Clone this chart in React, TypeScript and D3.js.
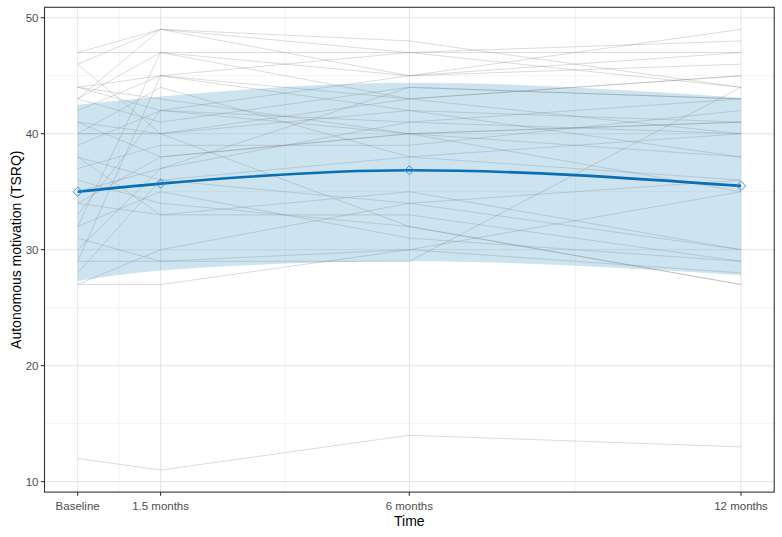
import React from "react";
import * as d3 from "d3";

// Time points (months) and labels
const timePoints = [0, 1.5, 6, 12];
const timeLabels = ["Baseline", "1.5 months", "6 months", "12 months"];
const minorX = [0.75, 3.75, 9];
const yTicks = [10, 20, 30, 40, 50];
const yMinor = [15, 25, 35, 45];

// Individual participant trajectories [Baseline, 1.5m, 6m, 12m]
const participants: number[][] = [
  [47, 47, 47, 47],
  [46, 49, 48, 44],
  [43, 49, 47, 48],
  [47, 49, 45, 46],
  [43, 47, 45, 49],
  [46, 40, 42, 41],
  [44, 45, 43, 45],
  [44, 42, 40, 41],
  [43, 41, 44, 43],
  [42, 45, 47, 44],
  [41, 38, 40, 38],
  [40, 40, 43, 40],
  [40, 44, 38, 36],
  [39, 42, 41, 40],
  [38, 36, 34, 30],
  [38, 33, 33, 29],
  [37, 39, 39, 42],
  [36, 34, 32, 27],
  [35, 37, 41, 43],
  [34, 33, 35, 30],
  [34, 38, 40, 41],
  [33, 42, 45, 47],
  [32, 47, 43, 45],
  [32, 35, 31, 29],
  [31, 29, 30, 35],
  [30, 37, 44, 43],
  [29, 45, 42, 38],
  [29, 29, 29, 44],
  [28, 36, 38, 40],
  [27, 27, 30, 28],
  [27, 30, 34, 36],
  [12, 11, 14, 13],
  [44, 43, 40, 35],
  [41, 40, 32, 27],
];

// Group mean and band
const meanValues = [35.0, 35.7, 36.85, 35.5];
const bandUpper = [42.5, 43.2, 44.4, 43.1];
const bandLower = [27.3, 28.2, 29.0, 27.8];

const W = 782;
const H = 537;
const panel = { left: 44.5, right: 774.2, top: 7.3, bottom: 492.1 };

export default function App() {
  const x = d3.scaleLinear().domain([-0.6, 12.6]).range([panel.left, panel.right]);
  const y = d3.scaleLinear().domain([9.1, 50.9]).range([panel.bottom, panel.top]);

  const indivLine = d3
    .line<number>()
    .x((_, i) => x(timePoints[i]))
    .y((d) => y(d));

  const meanLine = d3
    .line<number>()
    .x((_, i) => x(timePoints[i]))
    .y((d) => y(d))
    .curve(d3.curveMonotoneX);

  const band = d3
    .area<number>()
    .x((_, i) => x(timePoints[i]))
    .y0((_, i) => y(bandLower[i]))
    .y1((_, i) => y(bandUpper[i]))
    .curve(d3.curveMonotoneX);

  const font = "Liberation Sans, Arial, sans-serif";
  const ds = 4.6;

  return (
    <svg
      width={W}
      height={H}
      style={{ position: "fixed", left: 0, top: 0, background: "#fff" }}
      fontFamily={font}
    >
      <rect x={0} y={0} width={W} height={H} fill="#fff" />
      {/* minor gridlines */}
      {minorX.map((t) => (
        <line key={"mx" + t} x1={x(t)} x2={x(t)} y1={panel.top} y2={panel.bottom} stroke="#ebebeb" strokeWidth={0.6} />
      ))}
      {yMinor.map((v) => (
        <line key={"my" + v} x1={panel.left} x2={panel.right} y1={y(v)} y2={y(v)} stroke="#ebebeb" strokeWidth={0.6} />
      ))}
      {/* major gridlines */}
      {timePoints.map((t) => (
        <line key={"gx" + t} x1={x(t)} x2={x(t)} y1={panel.top} y2={panel.bottom} stroke="#e6e6e6" strokeWidth={1.1} />
      ))}
      {yTicks.map((v) => (
        <line key={"gy" + v} x1={panel.left} x2={panel.right} y1={y(v)} y2={y(v)} stroke="#e6e6e6" strokeWidth={1.1} />
      ))}

      {/* band */}
      <path d={band(meanValues) || ""} fill="#56a2cd" fillOpacity={0.3} />

      {/* individual lines */}
      {participants.map((p, i) => (
        <path key={"p" + i} d={indivLine(p) || ""} fill="none" stroke="#7f7f7f" strokeOpacity={0.27} strokeWidth={1} />
      ))}

      {/* mean line */}
      <path d={meanLine(meanValues) || ""} fill="none" stroke="#0a6eb4" strokeWidth={2.6} />
      {meanValues.map((v, i) => {
        const cx = x(timePoints[i]);
        const cy = y(v);
        return (
          <path
            key={"d" + i}
            d={`M${cx},${cy - ds}L${cx + ds},${cy}L${cx},${cy + ds}L${cx - ds},${cy}Z`}
            fill="none"
            stroke="#3b8fd9"
            strokeWidth={1}
          />
        );
      })}

      {/* panel border */}
      <rect
        x={panel.left}
        y={panel.top}
        width={panel.right - panel.left}
        height={panel.bottom - panel.top}
        fill="none"
        stroke="#333"
        strokeWidth={1.1}
      />

      {/* y axis ticks & labels */}
      {yTicks.map((v) => (
        <g key={"yt" + v}>
          <line x1={panel.left - 3.7} x2={panel.left} y1={y(v)} y2={y(v)} stroke="#333" strokeWidth={1.1} />
          <text x={panel.left - 6} y={y(v)} dy="0.35em" textAnchor="end" fontSize={11.5} fill="#4d4d4d">
            {v}
          </text>
        </g>
      ))}
      {/* x axis ticks & labels */}
      {timePoints.map((t, i) => (
        <g key={"xt" + t}>
          <line x1={x(t)} x2={x(t)} y1={panel.bottom} y2={panel.bottom + 3.7} stroke="#333" strokeWidth={1.1} />
          <text x={x(t)} y={panel.bottom + 18} textAnchor="middle" fontSize={11.5} fill="#4d4d4d">
            {timeLabels[i]}
          </text>
        </g>
      ))}

      {/* axis titles */}
      <text x={(panel.left + panel.right) / 2} y={526} textAnchor="middle" fontSize={14} fill="#000">
        Time
      </text>
      <text
        transform={`translate(20.5, ${(panel.top + panel.bottom) / 2}) rotate(-90)`}
        textAnchor="middle"
        fontSize={14}
        fill="#000"
      >
        Autonomous motivation (TSRQ)
      </text>
    </svg>
  );
}
